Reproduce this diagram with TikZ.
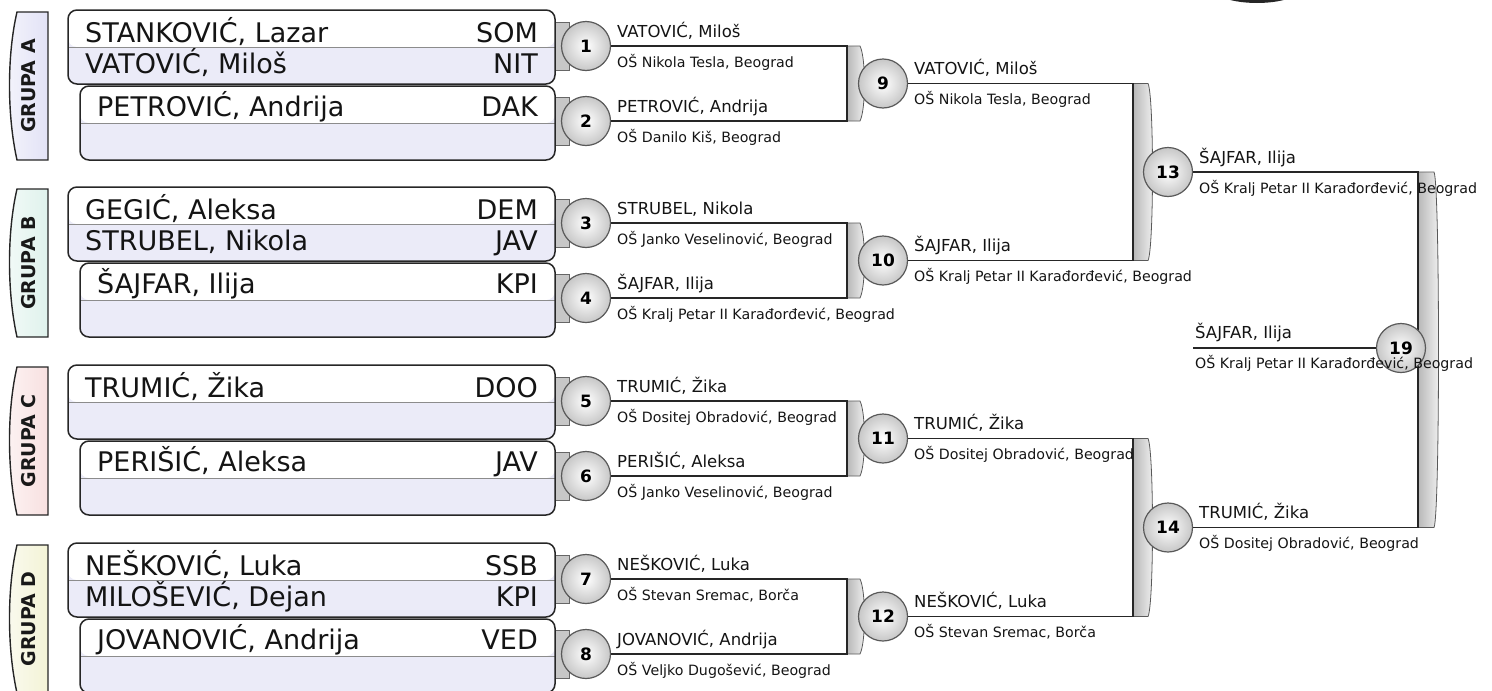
\documentclass[tikz,border=0pt]{standalone}
\usepackage{fontspec}
\setmainfont{DejaVu Sans}
\definecolor{lav}{HTML}{EBEBF8}
\definecolor{tabA}{HTML}{E2E2F6}
\definecolor{tabB}{HTML}{DFF2EC}
\definecolor{tabC}{HTML}{F8E0E0}
\definecolor{tabD}{HTML}{F3F3D6}
\newcommand\GroupBlock[9]{%
  \path[tabshape, right color=tab#3, left color=tab#3!40!white]
    (48,#1+2) -- (17,#1+2) .. controls (7,#1+45) and (7,#1+105) .. (17,#1+150) -- (48,#1+150) -- cycle;
  \node[tabtext, rotate=90] (tab#3) at (29,#1+76) {GRUPA #3};
  \node[pbox=487] (box#3a) at (68,#1) {};
  \node[pbox=475] (box#3b) at (80,#1+76) {};
  \node[pname] (n#3a) at (85,#1+32) {#4};
  \node[pclub] (k#3a) at (538,#1+32) {#5};
  \node[pname] (n#3b) at (85,#1+63) {#6};
  \node[pclub] (k#3b) at (538,#1+63) {#7};
  \node[pname] (n#3c) at (97,#1+106) {#8};
  \node[pclub] (k#3c) at (538,#1+106) {#9};
}
\newcommand\BracketBar[4]{%
  \path[barshape] (#1,#2) -- (#1+#4,#2) .. controls (#1+#4+6,#2+12) and (#1+#4+6,#3-12) .. (#1+#4,#3) -- (#1,#3) -- cycle;
}
\newcommand\MatchLabel[4]{%
  \node[lname] (ln#1) at ([xshift=31pt,yshift=9pt]c#1.center) {#2};
  \node[lschool] (ls#1) at ([xshift=31pt,yshift=-21pt]c#1.center) {#3};
}
\begin{document}
\begin{tikzpicture}[x=1pt,y=-1pt,
  tabshape/.style={draw=black!85, line width=1.4pt},
  tabtext/.style={inner sep=0pt, font=\fontsize{19}{21}\bfseries\selectfont, text=black!90},
  pbox/.style={draw=black!85, line width=1.5pt, rounded corners=9pt, fill=lav,
    minimum width=#1pt, minimum height=74pt, anchor=north west, inner sep=0pt, outer sep=0pt,
    path picture={\fill[white] (path picture bounding box.north west) rectangle ([yshift=-37pt]path picture bounding box.north east);
      \draw[black!45, line width=1pt] ([yshift=-37pt]path picture bounding box.north west) -- ([yshift=-37pt]path picture bounding box.north east);}},
  pname/.style={anchor=base west, inner sep=0pt, font=\fontsize{27}{30}\selectfont, text=black!92},
  pclub/.style={anchor=base east, inner sep=0pt, font=\fontsize{27}{30}\selectfont, text=black!92},
  stub/.style={fill=black!22, draw=black!60, line width=0.8pt},
  rnd/.style={circle, draw=black!65, line width=1.2pt, inner color=white, outer color=black!22,
    minimum size=49pt, inner sep=0pt, font=\fontsize{17}{18}\bfseries\selectfont},
  conn/.style={draw=black!85, line width=1.8pt},
  barshape/.style={draw=black!65, line width=0.8pt, left color=black!28, right color=black!5},
  lname/.style={anchor=base west, inner sep=0pt, font=\fontsize{16.5}{18}\selectfont, text=black!92},
  lschool/.style={anchor=base west, inner sep=0pt, font=\fontsize{14.2}{16}\selectfont, text=black!92}
]
\useasboundingbox (0,0) rectangle (1492,691);
\clip (0,0) rectangle (1492,691);
\fill[black!85] (1257,-18) ellipse [x radius=52, y radius=21];

% stubs between boxes and first-round circles
\foreach \yy in {46,121,223,298,401,476,579,654}{
  \path[stub] (552,\yy-24) rectangle (569,\yy+24);
}

\GroupBlock{10}{lav}{A}{STANKOVIĆ, Lazar}{SOM}{VATOVIĆ, Miloš}{NIT}{PETROVIĆ, Andrija}{DAK}
\GroupBlock{187}{lav}{B}{GEGIĆ, Aleksa}{DEM}{STRUBEL, Nikola}{JAV}{ŠAJFAR, Ilija}{KPI}
\GroupBlock{365}{lav}{C}{TRUMIĆ, Žika}{DOO}{}{}{PERIŠIĆ, Aleksa}{JAV}
\GroupBlock{543}{lav}{D}{NEŠKOVIĆ, Luka}{SSB}{MILOŠEVIĆ, Dejan}{KPI}{JOVANOVIĆ, Andrija}{VED}

% bars
\BracketBar{847}{46}{121}{13}
\BracketBar{847}{223}{298}{13}
\BracketBar{847}{401}{476}{13}
\BracketBar{847}{579}{654}{13}
\BracketBar{1133}{83.5}{260.5}{15}
\BracketBar{1133}{438.5}{616.5}{15}
\BracketBar{1418}{172}{527.5}{16}

% circles
\node[rnd] (c1) at (586,46) {1};
\node[rnd] (c2) at (586,121) {2};
\node[rnd] (c3) at (586,223) {3};
\node[rnd] (c4) at (586,298) {4};
\node[rnd] (c5) at (586,401) {5};
\node[rnd] (c6) at (586,476) {6};
\node[rnd] (c7) at (586,579) {7};
\node[rnd] (c8) at (586,654) {8};
\node[rnd] (c9) at (883,83.5) {9};
\node[rnd] (c10) at (883,260.5) {10};
\node[rnd] (c11) at (883,438.5) {11};
\node[rnd] (c12) at (883,616.5) {12};
\node[rnd] (c13) at (1168,172) {13};
\node[rnd] (c14) at (1168,527.5) {14};

% joints
\coordinate (j1) at (847,46);   \coordinate (j2) at (847,121);
\coordinate (j3) at (847,223);  \coordinate (j4) at (847,298);
\coordinate (j5) at (847,401);  \coordinate (j6) at (847,476);
\coordinate (j7) at (847,579);  \coordinate (j8) at (847,654);
\coordinate (j9) at (1133,83.5);  \coordinate (j10) at (1133,260.5);
\coordinate (j11) at (1133,438.5); \coordinate (j12) at (1133,616.5);
\coordinate (j13) at (1418,172);  \coordinate (j14) at (1418,527.5);
\coordinate (fin) at (1193,348);

\draw[conn] (c1) -- (j1) -- (j2) -- (c2);
\draw[conn] (c3) -- (j3) -- (j4) -- (c4);
\draw[conn] (c5) -- (j5) -- (j6) -- (c6);
\draw[conn] (c7) -- (j7) -- (j8) -- (c8);
\draw[conn] (c9) -- (j9) -- (j10) -- (c10);
\draw[conn] (c11) -- (j11) -- (j12) -- (c12);
\draw[conn] (c13) -- (j13) -- (j14) -- (c14);

\node[rnd] (c19) at (1401,348) {19};
\draw[conn] (fin) -- (c19);

% labels
\MatchLabel{1}{VATOVIĆ, Miloš}{OŠ Nikola Tesla, Beograd}{}
\MatchLabel{2}{PETROVIĆ, Andrija}{OŠ Danilo Kiš, Beograd}{}
\MatchLabel{3}{STRUBEL, Nikola}{OŠ Janko Veselinović, Beograd}{}
\MatchLabel{4}{ŠAJFAR, Ilija}{OŠ Kralj Petar II Karađorđević, Beograd}{}
\MatchLabel{5}{TRUMIĆ, Žika}{OŠ Dositej Obradović, Beograd}{}
\MatchLabel{6}{PERIŠIĆ, Aleksa}{OŠ Janko Veselinović, Beograd}{}
\MatchLabel{7}{NEŠKOVIĆ, Luka}{OŠ Stevan Sremac, Borča}{}
\MatchLabel{8}{JOVANOVIĆ, Andrija}{OŠ Veljko Dugošević, Beograd}{}
\MatchLabel{9}{VATOVIĆ, Miloš}{OŠ Nikola Tesla, Beograd}{}
\MatchLabel{10}{ŠAJFAR, Ilija}{OŠ Kralj Petar II Karađorđević, Beograd}{}
\MatchLabel{11}{TRUMIĆ, Žika}{OŠ Dositej Obradović, Beograd}{}
\MatchLabel{12}{NEŠKOVIĆ, Luka}{OŠ Stevan Sremac, Borča}{}
\MatchLabel{13}{ŠAJFAR, Ilija}{OŠ Kralj Petar II Karađorđević, Beograd}{}
\MatchLabel{14}{TRUMIĆ, Žika}{OŠ Dositej Obradović, Beograd}{}
\node[lname] (ln19) at (1195,338) {ŠAJFAR, Ilija};
\node[lschool] (ls19) at (1195,368) {OŠ Kralj Petar II Karađorđević, Beograd};
\end{tikzpicture}
\end{document}
